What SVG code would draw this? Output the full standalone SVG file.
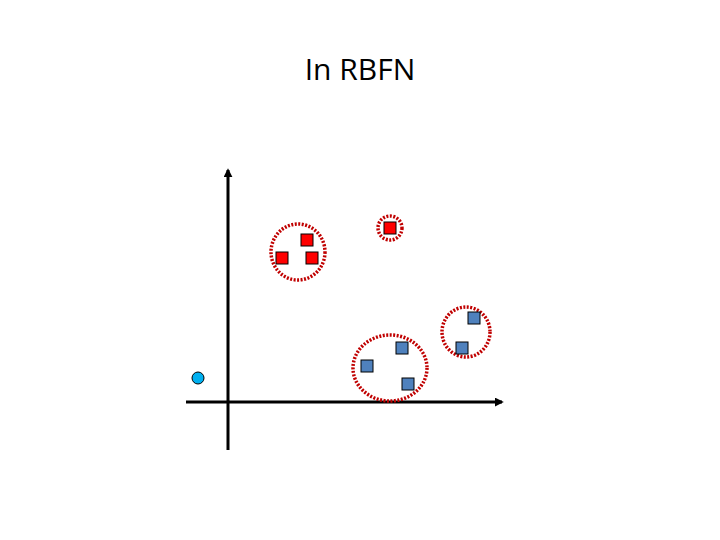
<svg xmlns="http://www.w3.org/2000/svg" width="720" height="540" viewBox="0 0 720 540">
<style>
.title{font-family:"Open Sans","Liberation Sans",sans-serif;font-size:30px;fill:#000}
.axis{stroke:#000;stroke-width:3;fill:none}
.ring{fill:none;stroke:#c00000;stroke-width:3.5;stroke-dasharray:2 1.5}
.red{fill:#ff0000;stroke:#000;stroke-width:1}
.blue{fill:#4f81bd;stroke:#000;stroke-width:1}
</style>
<defs>
<marker id="ah" viewBox="0 0 10 10" refX="8" refY="5" markerWidth="3" markerHeight="3" orient="auto"><path d="M0,0 L10,5 L0,10 z" fill="#000"/></marker>
</defs>
<rect width="720" height="540" fill="#fff"/>
<text class="title" x="360" y="80" text-anchor="middle">In RBFN</text>
<g id="axes">
<line class="axis" x1="228" y1="450" x2="228" y2="170" marker-end="url(#ah)"/>
<line class="axis" x1="186" y1="402" x2="502" y2="402" marker-end="url(#ah)"/>
</g>
<g id="point"><circle cx="198" cy="378" r="6" fill="#00b0f0" stroke="#000" stroke-width="1"/></g>
<g id="cluster1">
<ellipse class="ring" cx="298" cy="252" rx="27" ry="28"/>
<rect class="red" x="301" y="234" width="12" height="12"/>
<rect class="red" x="276" y="252" width="12" height="12"/>
<rect class="red" x="306" y="252" width="12" height="12"/>
</g>
<g id="cluster2">
<circle class="ring" cx="390" cy="228" r="12"/>
<rect class="red" x="384" y="222" width="12" height="12"/>
</g>
<g id="cluster3">
<ellipse class="ring" cx="390" cy="368" rx="37" ry="33"/>
<rect class="blue" x="396" y="342" width="12" height="12"/>
<rect class="blue" x="361" y="360" width="12" height="12"/>
<rect class="blue" x="402" y="378" width="12" height="12"/>
</g>
<g id="cluster4">
<ellipse class="ring" cx="466" cy="332" rx="24" ry="25"/>
<rect class="blue" x="468" y="312" width="12" height="12"/>
<rect class="blue" x="456" y="342" width="12" height="12"/>
</g>
</svg>
